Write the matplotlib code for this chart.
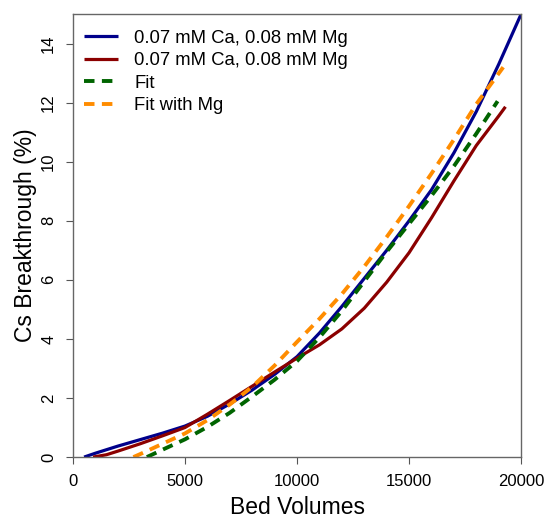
import matplotlib
matplotlib.use("Agg")
import matplotlib.pyplot as plt

plt.rcParams['font.family'] = ['Liberation Sans', 'DejaVu Sans']

# Blue: measured 1
blue_x = [500, 1000, 2000, 3000, 4000, 5000, 6000, 7000, 8000, 9000, 10000,
          11000, 12000, 13000, 14000, 15000, 16000, 17000, 18000, 19000, 20000]
blue_y = [0.0, 0.13, 0.37, 0.59, 0.81, 1.05, 1.38, 1.8, 2.27, 2.8, 3.4,
          4.2, 5.1, 6.05, 7.0, 8.0, 9.05, 10.3, 11.7, 13.3, 15.0]

# Red: measured 2
red_x = [900, 1500, 2000, 3000, 4000, 5000, 6000, 7000, 8000, 9000, 10000,
         11000, 12000, 13000, 14000, 15000, 16000, 17000, 18000, 19000, 19300]
red_y = [0.0, 0.08, 0.2, 0.45, 0.72, 1.0, 1.45, 1.92, 2.4, 2.88, 3.35,
         3.8, 4.34, 5.04, 5.92, 6.92, 8.1, 9.35, 10.55, 11.55, 11.86]

# Green: Fit
fit_x = [3300, 4000, 5000, 6000, 7000, 8000, 9000, 10000, 11000, 12000,
         13000, 14000, 15000, 16000, 17000, 18000, 18950]
fit_y = [0.0, 0.25, 0.6, 1.02, 1.5, 2.05, 2.62, 3.25, 4.05, 4.95,
         5.95, 6.95, 7.9, 8.85, 9.85, 10.95, 12.05]

# Orange: Fit with Mg
fitmg_x = [2700, 3000, 4000, 5000, 6000, 7000, 8000, 9000, 10000, 11000,
           12000, 13000, 14000, 15000, 16000, 17000, 18000, 19200]
fitmg_y = [0.0, 0.1, 0.45, 0.8, 1.25, 1.78, 2.38, 3.1, 3.9, 4.68,
           5.52, 6.45, 7.45, 8.5, 9.6, 10.75, 11.95, 13.2]

labels = ["0.07 mM Ca, 0.08 mM Mg", "0.07 mM Ca, 0.08 mM Mg", "Fit", "Fit with Mg"]
x_ticks = [0, 5000, 10000, 15000, 20000]
y_ticks = [0, 2, 4, 6, 8, 10, 12, 14]

fig = plt.figure(figsize=(5.44, 5.20), dpi=100)
ax = fig.add_axes([0.134, 0.121, 0.824, 0.852])

lw = 2.3
dash = (0, (2.7, 1.9))
ax.plot(blue_x, blue_y, color='#00008B', lw=lw, label=labels[0], solid_capstyle='butt')
ax.plot(red_x, red_y, color='#8B0000', lw=lw, label=labels[1], solid_capstyle='butt')
ax.plot(fit_x, fit_y, color='#006400', lw=lw + 0.5, ls=dash, label=labels[2])
ax.plot(fitmg_x, fitmg_y, color='#FF8C00', lw=lw + 0.5, ls=dash, label=labels[3])

ax.set_xlim(0, 20000)
ax.set_ylim(0, 15)
ax.set_xticks(x_ticks)
ax.set_xticklabels([str(t) for t in x_ticks])
ax.set_yticks(y_ticks)
ax.set_yticklabels([str(t) for t in y_ticks], rotation=90, va='center')
ax.tick_params(axis='both', labelsize=12, length=5, color='#555555', direction='out', pad=7)
for s in ax.spines.values():
    s.set_color('#666666')
    s.set_linewidth(1.0)

ax.set_xlabel("Bed Volumes", fontsize=16.5, labelpad=5)
ax.set_ylabel("Cs Breakthrough (%)", fontsize=16.5, labelpad=3)

leg = ax.legend(loc='upper left', bbox_to_anchor=(0, 0.99), frameon=False,
                fontsize=13.3, handlelength=1.85, labelspacing=0.3,
                borderaxespad=0.2, handletextpad=0.87)

fig.savefig("out.png", dpi=100)
